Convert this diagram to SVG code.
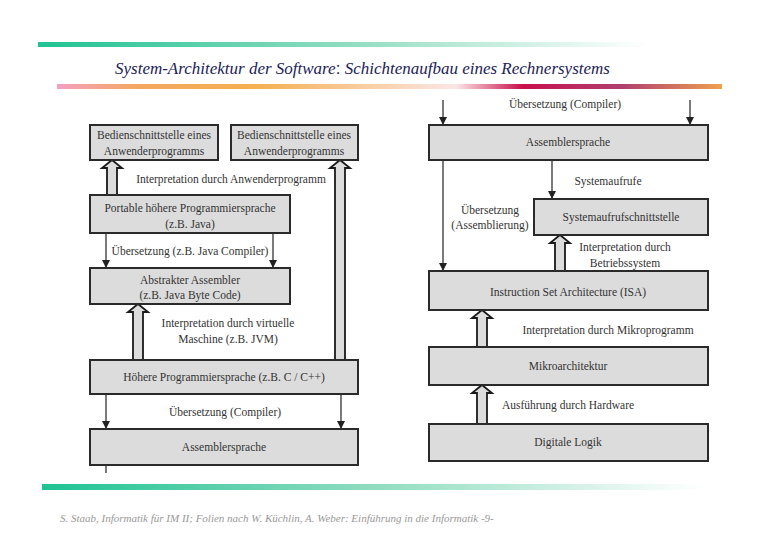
<svg xmlns="http://www.w3.org/2000/svg" width="780" height="540" viewBox="0 0 780 540" font-family="Liberation Serif, DejaVu Serif, serif">
<defs>
<linearGradient id="g1" x1="0" x2="1"><stop offset="0" stop-color="#1fc393"/><stop offset="0.5" stop-color="#8fdcc0"/><stop offset="1" stop-color="#ffffff"/></linearGradient>
<linearGradient id="g2" x1="0" x2="1"><stop offset="0" stop-color="#f4a0c0"/><stop offset="0.12" stop-color="#f4a860"/><stop offset="0.3" stop-color="#f5b050"/><stop offset="0.6" stop-color="#fbe6e6"/><stop offset="0.7" stop-color="#c8104c"/><stop offset="0.85" stop-color="#b04070"/><stop offset="1" stop-color="#f0a050"/></linearGradient>
<marker id="ah" markerWidth="8" markerHeight="8" refX="8" refY="4" orient="auto" markerUnits="userSpaceOnUse" viewBox="0 0 8 8"><path d="M0,0 L8,4 L0,8 Z" fill="#222"/></marker>
</defs>
<style>
.box{fill:#dcdcdc;stroke:#2a2a2a;stroke-width:2}
.t{font-size:11.5px;fill:#333;text-anchor:middle}
.l{stroke:#222;stroke-width:1.2;fill:none}
.ha{fill:#dcdcdc;stroke:#1a1a1a;stroke-width:1.8}
.it{font-style:italic}
</style>
<rect x="38" y="42" width="610" height="5" fill="url(#g1)"/>
<text class="it" x="115" y="74" font-size="17" fill="#22225a">System-Architektur der Software<tspan font-family="Liberation Sans, sans-serif" font-style="normal">:</tspan> Schichtenaufbau eines Rechnersystems</text>
<rect x="57" y="84" width="665" height="5" fill="url(#g2)"/>
<rect x="42" y="484" width="660" height="6" fill="url(#g1)"/>
<text class="it" x="60" y="522" font-size="11" fill="#999">S. Staab, Informatik für IM II; Folien nach W. Küchlin, A. Weber: Einführung in die Informatik -9-</text>

<g id="connectors">
<polygon class="ha" points="107,195 107,168 102,168 112,160 122,168 117,168 117,195"/>
<polygon class="ha" points="133,360 133,312 128,312 138,304 148,312 143,312 143,360"/>
<polygon class="ha" points="335,360 335,168 330,168 340,160 350,168 345,168 345,360"/>
<line class="l" x1="106" y1="233" x2="106" y2="268" marker-end="url(#ah)"/>
<line class="l" x1="273" y1="233" x2="273" y2="268" marker-end="url(#ah)"/>
<line class="l" x1="106" y1="394" x2="106" y2="429" marker-end="url(#ah)"/>
<line class="l" x1="341" y1="394" x2="341" y2="429" marker-end="url(#ah)"/>
<line class="l" x1="106" y1="465" x2="106" y2="473"/>
<line class="l" x1="443" y1="100" x2="443" y2="125" marker-end="url(#ah)"/>
<line class="l" x1="690" y1="100" x2="690" y2="125" marker-end="url(#ah)"/>
<line class="l" x1="552" y1="160" x2="552" y2="199" marker-end="url(#ah)"/>
<line class="l" x1="443" y1="160" x2="443" y2="271" marker-end="url(#ah)"/>
<polygon class="ha" points="555,271 555,243 550,243 560,235 570,243 565,243 565,271"/>
<polygon class="ha" points="477,347 477,318 472,318 482,310 492,318 487,318 487,347"/>
<polygon class="ha" points="477,424 477,393 472,393 482,385 492,393 487,393 487,424"/>
<text class="t" x="231" y="183">Interpretation durch Anwenderprogramm</text>
<text class="t" x="190" y="255">Übersetzung (z.B. Java Compiler)</text>
<text class="t" x="228" y="327">Interpretation durch virtuelle</text>
<text class="t" x="228" y="343">Maschine (z.B. JVM)</text>
<text class="t" x="225" y="416">Übersetzung (Compiler)</text>
<text class="t" x="565" y="108">Übersetzung (Compiler)</text>
<text class="t" x="608" y="185">Systemaufrufe</text>
<text class="t" x="490" y="214">Übersetzung</text>
<text class="t" x="490" y="229">(Assemblierung)</text>
<text class="t" x="625" y="251">Interpretation durch</text>
<text class="t" x="625" y="267">Betriebssystem</text>
<text class="t" x="608" y="334">Interpretation durch Mikroprogramm</text>
<text class="t" x="568" y="409">Ausführung durch Hardware</text>
</g>

<g id="n1"><rect class="box" x="90" y="125" width="128" height="35"/><text class="t" x="154" y="139">Bedienschnittstelle eines</text><text class="t" x="154" y="155">Anwenderprogramms</text></g>
<g id="n2"><rect class="box" x="231" y="125" width="127" height="35"/><text class="t" x="294" y="139">Bedienschnittstelle eines</text><text class="t" x="294" y="155">Anwenderprogramms</text></g>
<g id="n3"><rect class="box" x="90" y="195" width="200" height="38"/><text class="t" x="190" y="212">Portable höhere Programmiersprache</text><text class="t" x="190" y="228">(z.B. Java)</text></g>
<g id="n4"><rect class="box" x="90" y="268" width="200" height="36"/><text class="t" x="190" y="284">Abstrakter Assembler</text><text class="t" x="190" y="299">(z.B. Java Byte Code)</text></g>
<g id="n5"><rect class="box" x="90" y="360" width="268" height="34"/><text class="t" x="224" y="381">Höhere Programmiersprache (z.B. C / C++)</text></g>
<g id="n6"><rect class="box" x="90" y="429" width="268" height="36"/><text class="t" x="224" y="451">Assemblersprache</text></g>
<g id="n7"><rect class="box" x="429" y="125" width="279" height="35"/><text class="t" x="568" y="146">Assemblersprache</text></g>
<g id="n8"><rect class="box" x="534" y="199" width="174" height="36" stroke-width="2.6"/><text class="t" x="621" y="221">Systemaufrufschnittstelle</text></g>
<g id="n9"><rect class="box" x="429" y="271" width="279" height="39"/><text class="t" x="568" y="296">Instruction Set Architecture (ISA)</text></g>
<g id="n10"><rect class="box" x="429" y="347" width="279" height="38"/><text class="t" x="568" y="370">Mikroarchitektur</text></g>
<g id="n11"><rect class="box" x="429" y="424" width="279" height="37"/><text class="t" x="568" y="446">Digitale Logik</text></g>
</svg>
